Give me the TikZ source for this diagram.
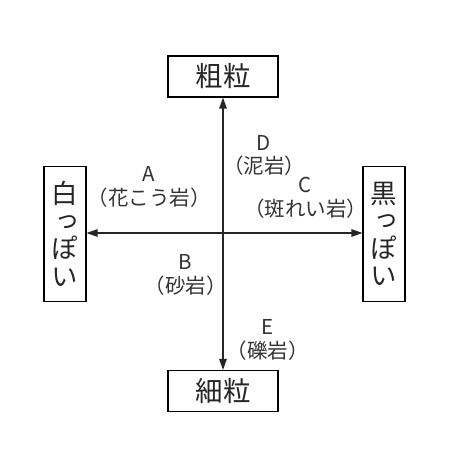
\documentclass[tikz,border=0pt]{standalone}
\usepackage{fontspec}
\setmainfont{Noto Sans CJK JP}
\newfontfamily\jpvert[RawFeature=+vert]{Noto Sans CJK JP}
\usepackage{tikz}
\usetikzlibrary{positioning}
\usetikzlibrary{arrows.meta}
\tikzset{>=stealth}
\tikzstyle{grain} = [draw, line width=1.1pt, minimum width=110pt,
minimum height=41pt, text=black!85, font=\fontsize{27.5}{28}\selectfont]
\tikzstyle{line} = [draw, line width=1.2pt, black!85,
{Triangle[length=11pt,width=7.5pt]}-{Triangle[length=11pt,width=7.5pt]}]

\begin{document}
\begin{tikzpicture}[x=1pt, y=-1pt,
	tone/.style={draw, line width=1.1pt, minimum width=42pt,
	minimum height=135pt, align=center, text=black!85,
	font=\jpvert\fontsize{26.5}{27.5}\selectfont},
	rock/.style={align=center, inner sep=0pt, text=black!80,
	font=\fontsize{20.5}{23.5}\selectfont}]
	\useasboundingbox (0,0) rectangle (460,456);
	\node [grain] (coarse) at (223,76.5) {粗粒};
	\node [grain] (fine) at (223,391) {細粒};
	\node [tone] (white) at (65,234) {白\\っ\\ぽ\\い};
	\node [tone] (black) at (384,234) {黒\\っ\\ぽ\\い};
	%%
	\node [rock] (A) at (149,187) {A\\（花こう岩）};
	\node [rock] (D) at (264,155.5) {D\\（泥岩）};
	\node [rock] (C) at (305.5,198) {C\\（斑れい岩）};
	\node [rock] (B) at (185.5,275) {B\\（砂岩）};
	\node [rock] (E) at (267.5,340) {E\\（礫岩）};
	%% Arrows
	\path [line] (white.east |- 0,233) to (black.west |- 0,233);
	\path [line] (coarse) to (fine);
\end{tikzpicture}
\end{document}
